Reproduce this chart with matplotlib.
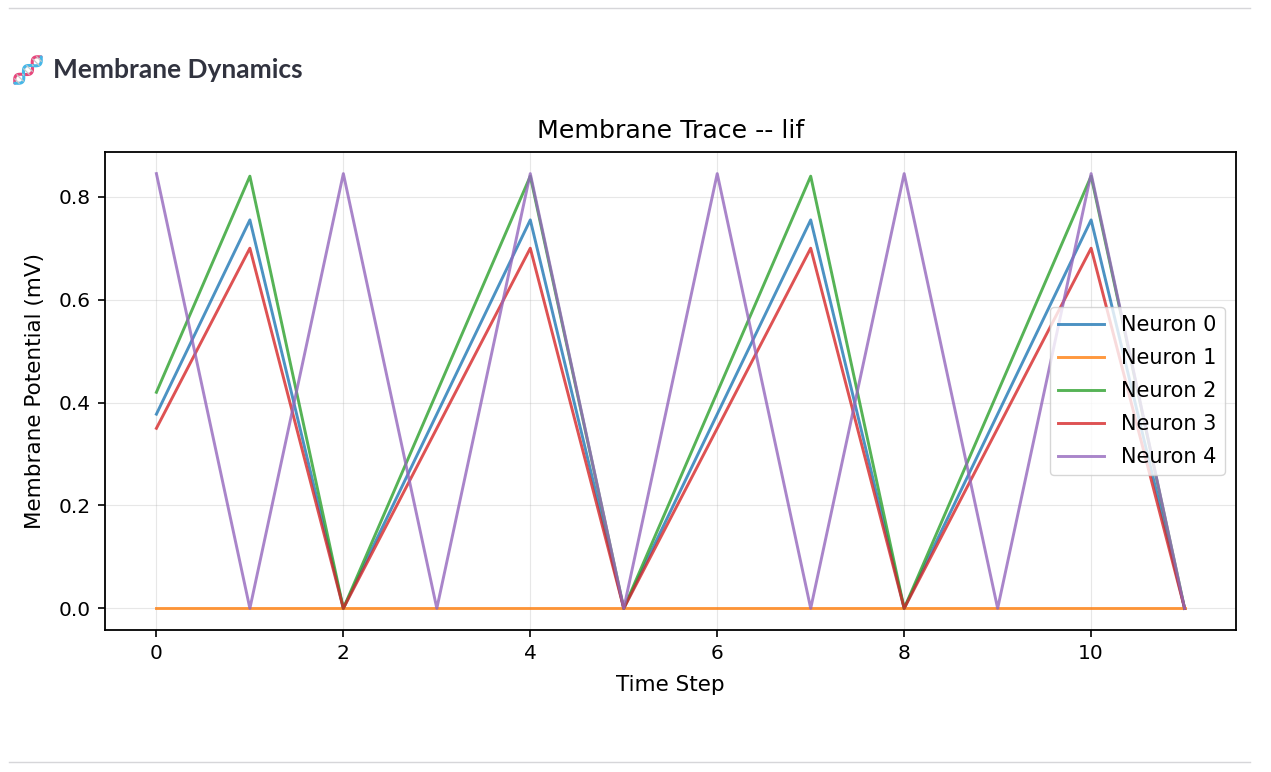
import numpy as np
import matplotlib.pyplot as plt
from matplotlib.lines import Line2D

time_steps = list(range(12))
neuron_0 = [0.3775, 0.755, 0.0, 0.3775, 0.755, 0.0, 0.3775, 0.755, 0.0, 0.3775, 0.755, 0.0]
neuron_1 = [0.0] * 12
neuron_2 = [0.42, 0.84, 0.0, 0.42, 0.84, 0.0, 0.42, 0.84, 0.0, 0.42, 0.84, 0.0]
neuron_3 = [0.35, 0.70, 0.0, 0.35, 0.70, 0.0, 0.35, 0.70, 0.0, 0.35, 0.70, 0.0]
neuron_4 = [0.845, 0.0, 0.845, 0.0, 0.845, 0.0, 0.845, 0.0, 0.845, 0.0, 0.845, 0.0]
series = [neuron_0, neuron_1, neuron_2, neuron_3, neuron_4]
labels = ['Neuron 0', 'Neuron 1', 'Neuron 2', 'Neuron 3', 'Neuron 4']

W, H = 1271, 772
fig = plt.figure(figsize=(W / 100, H / 100), dpi=100)

# page rules top and bottom
for yy in (8, 762):
    fig.add_artist(Line2D([9 / W, 1250 / W], [1 - yy / H, 1 - yy / H],
                          color='#d6d6d9', lw=1))

# header
fig.text(53 / W, 1 - 70 / H, 'Membrane Dynamics', fontsize=19, fontweight='bold',
         family=['Lato', 'DejaVu Sans'], color='#31333F', va='center', ha='left')

# small DNA icon (emoji stand-in), a diagonal double helix
icon = fig.add_axes([12 / W, 1 - 86 / H, 32 / W, 32 / H])
s = np.linspace(0, 1, 80)
d = np.array([1, 1]) / np.sqrt(2)
n = np.array([-1, 1]) / np.sqrt(2)
amp = 0.16 * np.sin(2 * np.pi * 1.5 * s)
for sign, col in ((1, '#e8467c'), (-1, '#45b7e8')):
    pts = np.outer(s * 1.3, d) + np.outer(sign * amp, n)
    icon.plot(pts[:, 0], pts[:, 1], color=col, lw=2.2, solid_capstyle='round')
for k in np.linspace(0.08, 0.92, 8):
    a = 0.16 * np.sin(2 * np.pi * 1.5 * k)
    p1 = k * 1.3 * d + a * n
    p2 = k * 1.3 * d - a * n
    icon.plot([p1[0], p2[0]], [p1[1], p2[1]], color='#c8c8c8', lw=0.9)
icon.set_xlim(-0.1, 1.02)
icon.set_ylim(-0.1, 1.02)
icon.axis('off')

ax = fig.add_axes([105 / W, 1 - 630 / H, (1236 - 105) / W, (630 - 152) / H])
for vals, lab in zip(series, labels):
    ax.plot(time_steps, vals, label=lab, lw=2.1, alpha=0.8)

ax.set_title('Membrane Trace -- lif', fontsize=18.2, pad=10)
ax.set_xlabel('Time Step', fontsize=15.5, labelpad=9)
ax.set_ylabel('Membrane Potential (mV)', fontsize=15.5, labelpad=10)
ax.tick_params(labelsize=14.5, length=5, width=1.2, pad=5)
for sp in ax.spines.values():
    sp.set_linewidth(1.3)
ax.set_xticks([0, 2, 4, 6, 8, 10])
ax.set_yticks([0.0, 0.2, 0.4, 0.6, 0.8])
ax.set_xlim(-0.55, 11.55)
ax.set_ylim(-0.042, 0.887)
ax.grid(True, alpha=0.3)
ax.legend(loc='center right', fontsize=15, borderaxespad=0.55, handlelength=2.2,
          labelspacing=0.62)

fig.savefig('out.png', dpi=100)
